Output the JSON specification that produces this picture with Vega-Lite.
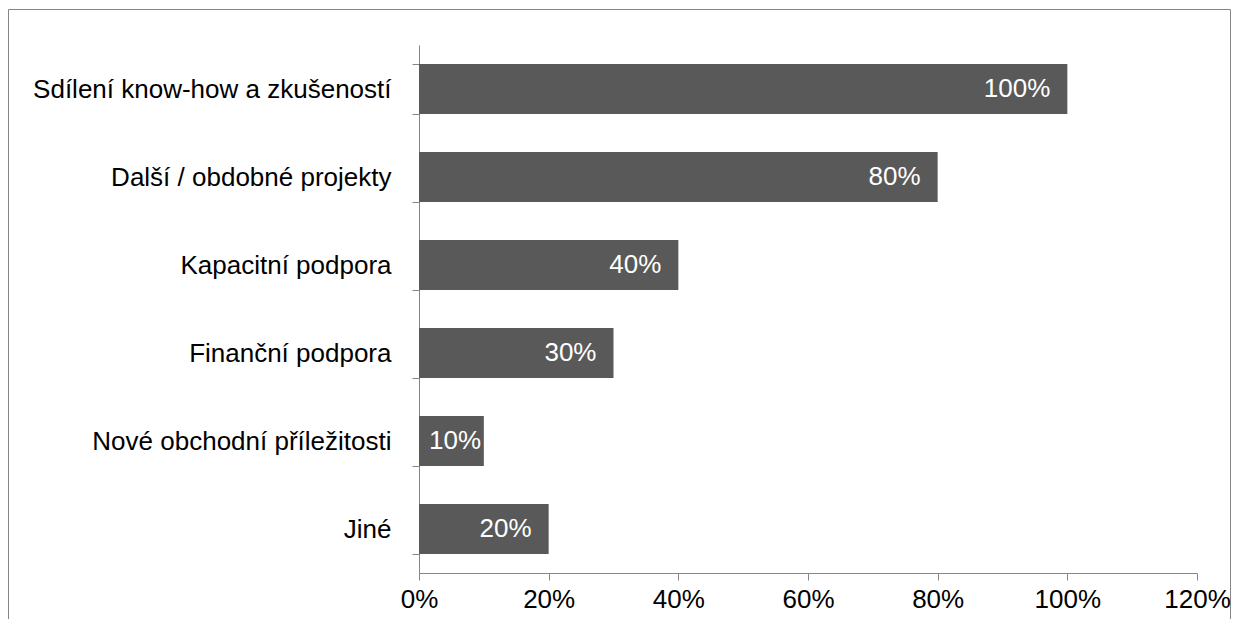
{
  "$schema": "https://vega.github.io/schema/vega-lite/v6.json",
  "autosize": {"type": "none"},
  "padding": {"left": 8, "top": 9, "right": 9, "bottom": 0},
  "width": 1222,
  "height": 610,
  "config": {
    "font": "Liberation Sans",
    "view": {"stroke": "#868686", "strokeWidth": 1}
  },
  "data": {
    "values": [
      {"kategorie": "Sdílení know-how a zkušeností", "podil": 1.0},
      {"kategorie": "Další / obdobné projekty", "podil": 0.8},
      {"kategorie": "Kapacitní podpora", "podil": 0.4},
      {"kategorie": "Finanční podpora", "podil": 0.3},
      {"kategorie": "Nové obchodní příležitosti", "podil": 0.1},
      {"kategorie": "Jiné", "podil": 0.2}
    ]
  },
  "encoding": {
    "y": {
      "field": "kategorie",
      "type": "nominal",
      "sort": null,
      "scale": {"range": [36, 564], "paddingInner": 0.43, "paddingOuter": 0.215},
      "axis": {
        "title": null,
        "orient": "left",
        "offset": -411,
        "domainColor": "#868686",
        "tickColor": "#868686",
        "tickSize": 7,
        "tickBand": "extent",
        "labelFontSize": 26,
        "labelColor": "#000000",
        "labelPadding": 21,
        "labelLimit": 420,
        "grid": false
      }
    },
    "x": {
      "field": "podil",
      "type": "quantitative",
      "scale": {"domain": [0, 1.2], "range": [411, 1189], "nice": false, "zero": true},
      "axis": {
        "title": null,
        "orient": "bottom",
        "offset": -46,
        "format": ".0%",
        "values": [0, 0.2, 0.4, 0.6, 0.8, 1.0, 1.2],
        "domainColor": "#868686",
        "tickColor": "#868686",
        "tickSize": 7,
        "labelFontSize": 26,
        "labelColor": "#000000",
        "labelPadding": 6,
        "labelFlush": false,
        "grid": false
      }
    }
  },
  "layer": [
    {"mark": {"type": "bar", "color": "#595959"}},
    {
      "transform": [{"filter": "datum.podil >= 0.15"}],
      "mark": {"type": "text", "align": "right", "baseline": "middle", "dx": -17, "fontSize": 26, "color": "#ffffff"},
      "encoding": {"text": {"field": "podil", "type": "quantitative", "format": ".0%"}}
    },
    {
      "transform": [{"filter": "datum.podil < 0.15"}],
      "mark": {"type": "text", "align": "left", "baseline": "middle", "dx": 10, "fontSize": 26, "color": "#ffffff"},
      "encoding": {
        "x": {"datum": 0},
        "text": {"field": "podil", "type": "quantitative", "format": ".0%"}
      }
    }
  ]
}
